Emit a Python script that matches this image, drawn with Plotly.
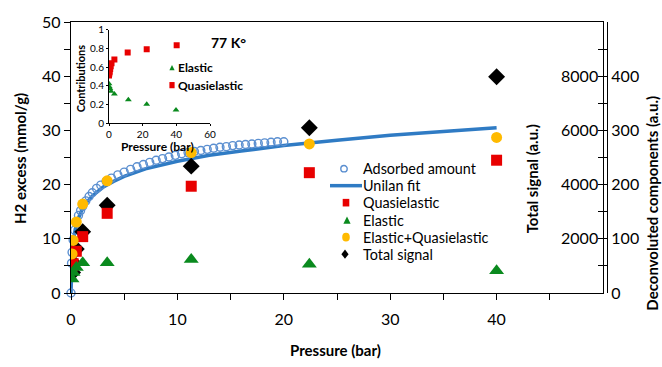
import plotly.graph_objects as go

# ---------------- data ----------------
# Adsorbed amount (mmol/g) vs pressure (bar)
ads_p = [0, 0.05, 0.1, 0.2, 0.35, 0.5, 0.7, 0.9, 1.1, 1.4, 1.7, 2.0, 2.4, 2.8, 3.3, 3.8,
         4.4, 5.0, 5.6, 6.2, 6.8, 7.4, 8.0, 8.6, 9.2, 9.8, 10.4, 11.0, 11.6, 12.2, 12.8,
         13.4, 14.0, 14.6, 15.2, 15.8, 16.4, 17.0, 17.6, 18.2, 18.8, 19.4, 20.0]
ads_v = [0.0, 5.5, 7.5, 9.8, 11.6, 13.0, 14.3, 15.2, 16.0, 17.0, 17.8, 18.5, 19.3, 19.9, 20.6, 21.2,
         21.8, 22.3, 22.8, 23.3, 23.7, 24.1, 24.5, 24.8, 25.1, 25.4, 25.7, 25.9, 26.1, 26.3, 26.5,
         26.7, 26.9, 27.0, 27.2, 27.3, 27.4, 27.5, 27.6, 27.7, 27.8, 27.9, 27.9]

# Unilan fit
fit_p = [0, 0.05, 0.1, 0.2, 0.4, 0.7, 1, 1.5, 2, 3, 4, 5, 7, 10, 13, 16, 20, 25, 30, 35, 40]
fit_v = [0, 4.5, 6.8, 9.3, 11.8, 13.8, 15.2, 16.8, 17.9, 19.5, 20.6, 21.5, 22.9, 24.3, 25.4,
         26.2, 27.2, 28.2, 29.1, 29.8, 30.5]

# QENS measurement pressures (bar)
qens_p = [0.1, 0.2, 0.5, 1.1, 3.4, 11.3, 22.4, 40.0]
quasi = [50, 54, 77, 104, 147, 197, 222, 245]          # deconvoluted (a.u.)
elastic = [26, 38, 47, 56, 56, 62, 53, 41]             # deconvoluted (a.u.)
el_quasi = [72, 97, 131, 164, 207, 259, 275, 287]      # deconvoluted (a.u.)
total_p = [0.15, 0.2, 0.5, 1.1, 3.4, 11.3, 22.4, 40.0]
total = [760, 1120, 1620, 2260, 3240, 4680, 6100, 7980]  # total signal (a.u.)

# inset: contributions
ins_q_p = [0.0, 0.2, 0.4, 0.7, 1.0, 1.5, 3.2, 11.1, 22.4, 40.2]
ins_q_v = [0.51, 0.53, 0.55, 0.58, 0.61, 0.64, 0.68, 0.755, 0.79, 0.835]
ins_e_p = [0.0, 0.2, 0.5, 1.2, 3.2, 11.5, 22.4, 39.8]
ins_e_v = [0.42, 0.39, 0.37, 0.34, 0.31, 0.25, 0.20, 0.14]

x_ticks = [0, 5, 10, 15, 20, 25, 30, 35, 40, 45, 50]
x_text = ["0", "", "10", "", "20", "", "30", "", "40", "", ""]
y_ticks = [0, 5, 10, 15, 20, 25, 30, 35, 40, 45, 50]
y_text = ["0", "", "10", "", "20", "", "30", "", "40", "", "50"]
y2_ticks = [2000, 4000, 6000, 8000]
y3_ticks = [0, 50, 100, 150, 200, 250, 300, 350, 400, 450]
y3_text = ["0", "", "100", "", "200", "", "300", "", "400", ""]
ins_x_ticks = [0, 20, 40, 60]
ins_y_ticks = [0, 0.2, 0.4, 0.6, 0.8, 1]
ins_y_text = ["0", "0.2", "0.4", "0.6", "0.8", "1"]

legend_names = ["Adsorbed amount", "Unilan fit", "Quasielastic", "Elastic",
                "Elastic+Quasielastic", "Total signal"]
inset_legend_names = ["Elastic", "Quasielastic"]

FONT = "Lato"
BLUE = "#2F7BC4"
CIRC = "#5B8FD0"
RED = "#E80000"
GREEN = "#0A8A1E"
YEL = "#FFBA00"

fig = go.Figure()

fig.add_trace(go.Scatter(x=fit_p, y=fit_v, mode="lines", name="Unilan fit",
                         line=dict(color=BLUE, width=3.5), xaxis="x", yaxis="y"))
fig.add_trace(go.Scatter(x=ads_p, y=ads_v, mode="markers", name="Adsorbed amount",
                         marker=dict(symbol="circle-open", size=8, color=CIRC,
                                     line=dict(width=1.4, color=CIRC)),
                         xaxis="x", yaxis="y", cliponaxis=False))
fig.add_trace(go.Scatter(x=qens_p, y=quasi, mode="markers", name="Quasielastic",
                         marker=dict(symbol="square", size=11, color=RED),
                         xaxis="x", yaxis="y3"))
fig.add_trace(go.Scatter(x=qens_p, y=elastic, mode="markers", name="Elastic",
                         marker=dict(symbol="triangle-up", size=13, color=GREEN),
                         xaxis="x", yaxis="y3"))
fig.add_trace(go.Scatter(x=qens_p, y=el_quasi, mode="markers", name="Elastic+Quasielastic",
                         marker=dict(symbol="circle", size=11, color=YEL),
                         xaxis="x", yaxis="y3"))
fig.add_trace(go.Scatter(x=total_p, y=total, mode="markers", name="Total signal",
                         marker=dict(symbol="diamond", size=13, color="black"),
                         xaxis="x", yaxis="y2"))
fig.add_trace(go.Scatter(x=ins_e_p, y=ins_e_v, mode="markers", name="Elastic",
                         marker=dict(symbol="triangle-up", size=6, color=GREEN),
                         xaxis="x2", yaxis="y4"))
fig.add_trace(go.Scatter(x=ins_q_p, y=ins_q_v, mode="markers", name="Quasielastic",
                         marker=dict(symbol="square", size=6, color=RED),
                         xaxis="x2", yaxis="y4"))

L, R, T, B = 71, 607, 14, 293
W, H = 662, 367
xdom_end = (603 - L) / (R - L)


def px_x(p):
    return (p - L) / (R - L)


def px_y(p):
    return (B - p) / (B - T)


axis_common = dict(showgrid=False, zeroline=False, showline=True, linecolor="black",
                   linewidth=1.3, tickcolor="black",
                   tickfont=dict(family=FONT, size=16, color="black"))
inset_axis = dict(showgrid=False, zeroline=False, showline=True, linecolor="black", linewidth=1,
                  ticks="outside", ticklen=2, tickcolor="black",
                  tickfont=dict(family=FONT, size=10, color="black"))

fig.update_layout(
    width=W, height=H,
    margin=dict(l=L, r=W - R, t=T, b=H - B),
    paper_bgcolor="white", plot_bgcolor="white",
    font=dict(family=FONT, color="black"),
    showlegend=False,
    xaxis=dict(domain=[0, xdom_end], range=[0, 50], anchor="y", ticks="outside", ticklen=6,
               tickvals=x_ticks, ticktext=x_text, mirror=True, ticklabelstandoff=6,
               **axis_common),
    yaxis=dict(range=[0, 50], anchor="x", ticks="outside", ticklen=6,
               tickvals=y_ticks, ticktext=y_text, mirror=True, **axis_common),
    yaxis2=dict(range=[0, 10000], overlaying="y", side="right", anchor="x",
                tickvals=y2_ticks, ticktext=[str(v) for v in y2_ticks],
                ticks="inside", ticklen=5, ticklabelposition="inside",
                showgrid=False, zeroline=False, showline=False, tickcolor="black",
                tickfont=dict(family=FONT, size=16, color="black")),
    yaxis3=dict(range=[0, 500], overlaying="y", side="right", anchor="free", position=1.0,
                tickvals=y3_ticks, ticktext=y3_text, ticks="inside", ticklen=9,
                **axis_common),
    xaxis2=dict(domain=[px_x(109), px_x(210)], range=[0, 60], anchor="y4",
                tickvals=ins_x_ticks, **inset_axis),
    yaxis4=dict(domain=[px_y(118), px_y(22)], range=[0, 1], anchor="x2",
                tickvals=ins_y_ticks, ticktext=ins_y_text, **inset_axis),
)

# ---- axis titles & labels ----
annos = [
    dict(text="<b>H2 excess (mmol/g)</b>", x=20, y=155, textangle=-90, size=15),
    dict(text="<b>Pressure (bar)</b>", x=335, y=352, textangle=0, size=15),
    dict(text="<b>Total signal (a.u.)</b>", x=532, y=176, textangle=-90, size=15),
    dict(text="<b>Deconvoluted components (a.u.)</b>", x=652, y=201, textangle=-90, size=15),
    dict(text="<b>Contributions</b>", x=80, y=72, textangle=-90, size=11),
    dict(text="<b>Pressure (bar)</b>", x=157, y=142, textangle=0, size=12),
    dict(text="<b>77 K°</b>", x=228, y=35, textangle=0, size=14),
]
for a in annos:
    fig.add_annotation(text=a["text"], x=px_x(a["x"]), y=px_y(a["y"]), xref="paper", yref="paper",
                       xanchor="center", yanchor="middle", textangle=a["textangle"],
                       showarrow=False, font=dict(family=FONT, size=a["size"], color="black"))


# ---- legends (symbols as pixel-sized shapes, names as text) ----
def legend_symbol(kind, cx, cy, s, color):
    base = dict(xref="paper", yref="paper", xsizemode="pixel", ysizemode="pixel",
                xanchor=px_x(cx), yanchor=px_y(cy))
    if kind == "circle-open":
        fig.add_shape(type="circle", x0=-s, x1=s, y0=-s, y1=s,
                      line=dict(color=color, width=1.4), fillcolor="rgba(0,0,0,0)", **base)
    elif kind == "circle":
        fig.add_shape(type="circle", x0=-s, x1=s, y0=-s - 0.5, y1=s + 0.5,
                      line=dict(width=0), fillcolor=color, **base)
    elif kind == "square":
        fig.add_shape(type="rect", x0=-s, x1=s, y0=-s - 0.5, y1=s + 0.5,
                      line=dict(width=0), fillcolor=color, **base)
    elif kind == "triangle":
        fig.add_shape(type="path", path=f"M {-s},{-s} L {s},{-s} L 0,{s} Z",
                      line=dict(width=0), fillcolor=color, **base)
    elif kind == "diamond":
        fig.add_shape(type="path", path=f"M 0,{s + 1} L {s},0 L 0,{-s - 1} L {-s},0 Z",
                      line=dict(width=0), fillcolor=color, **base)
    elif kind == "line":
        fig.add_shape(type="line", x0=-16, x1=16, y0=0, y1=0,
                      line=dict(color=color, width=3.5), **base)


def legend_text(txt, x, y, size):
    fig.add_annotation(text=txt, x=px_x(x), y=px_y(y), xref="paper", yref="paper",
                       xanchor="left", yanchor="middle", showarrow=False, borderpad=0,
                       font=dict(family=FONT, size=size, color="black"))


main_leg_style = [("circle-open", 344, 3.2, CIRC), ("line", 346, 0, BLUE),
                  ("square", 346, 3.3, RED), ("triangle", 347, 3.6, GREEN),
                  ("circle", 346, 3.8, YEL), ("diamond", 345, 3.6, "black")]
main_leg_rows = [165, 182.5, 200, 218, 235.5, 253]
for name, (kind, sx, ss, col), ry in zip(legend_names, main_leg_style, main_leg_rows):
    legend_symbol(kind, sx, ry, ss, col)
    legend_text(name, 362, ry, 14.4)

inset_leg_style = [("triangle", 172, 2.6, GREEN), ("square", 172, 2.6, RED)]
inset_leg_rows = [61, 79]
for name, (kind, sx, ss, col), ry in zip(inset_legend_names, inset_leg_style, inset_leg_rows):
    legend_symbol(kind, sx, ry, ss, col)
    legend_text(f"<b>{name}</b>", 177, ry, 12)

fig.write_html("out.html")
